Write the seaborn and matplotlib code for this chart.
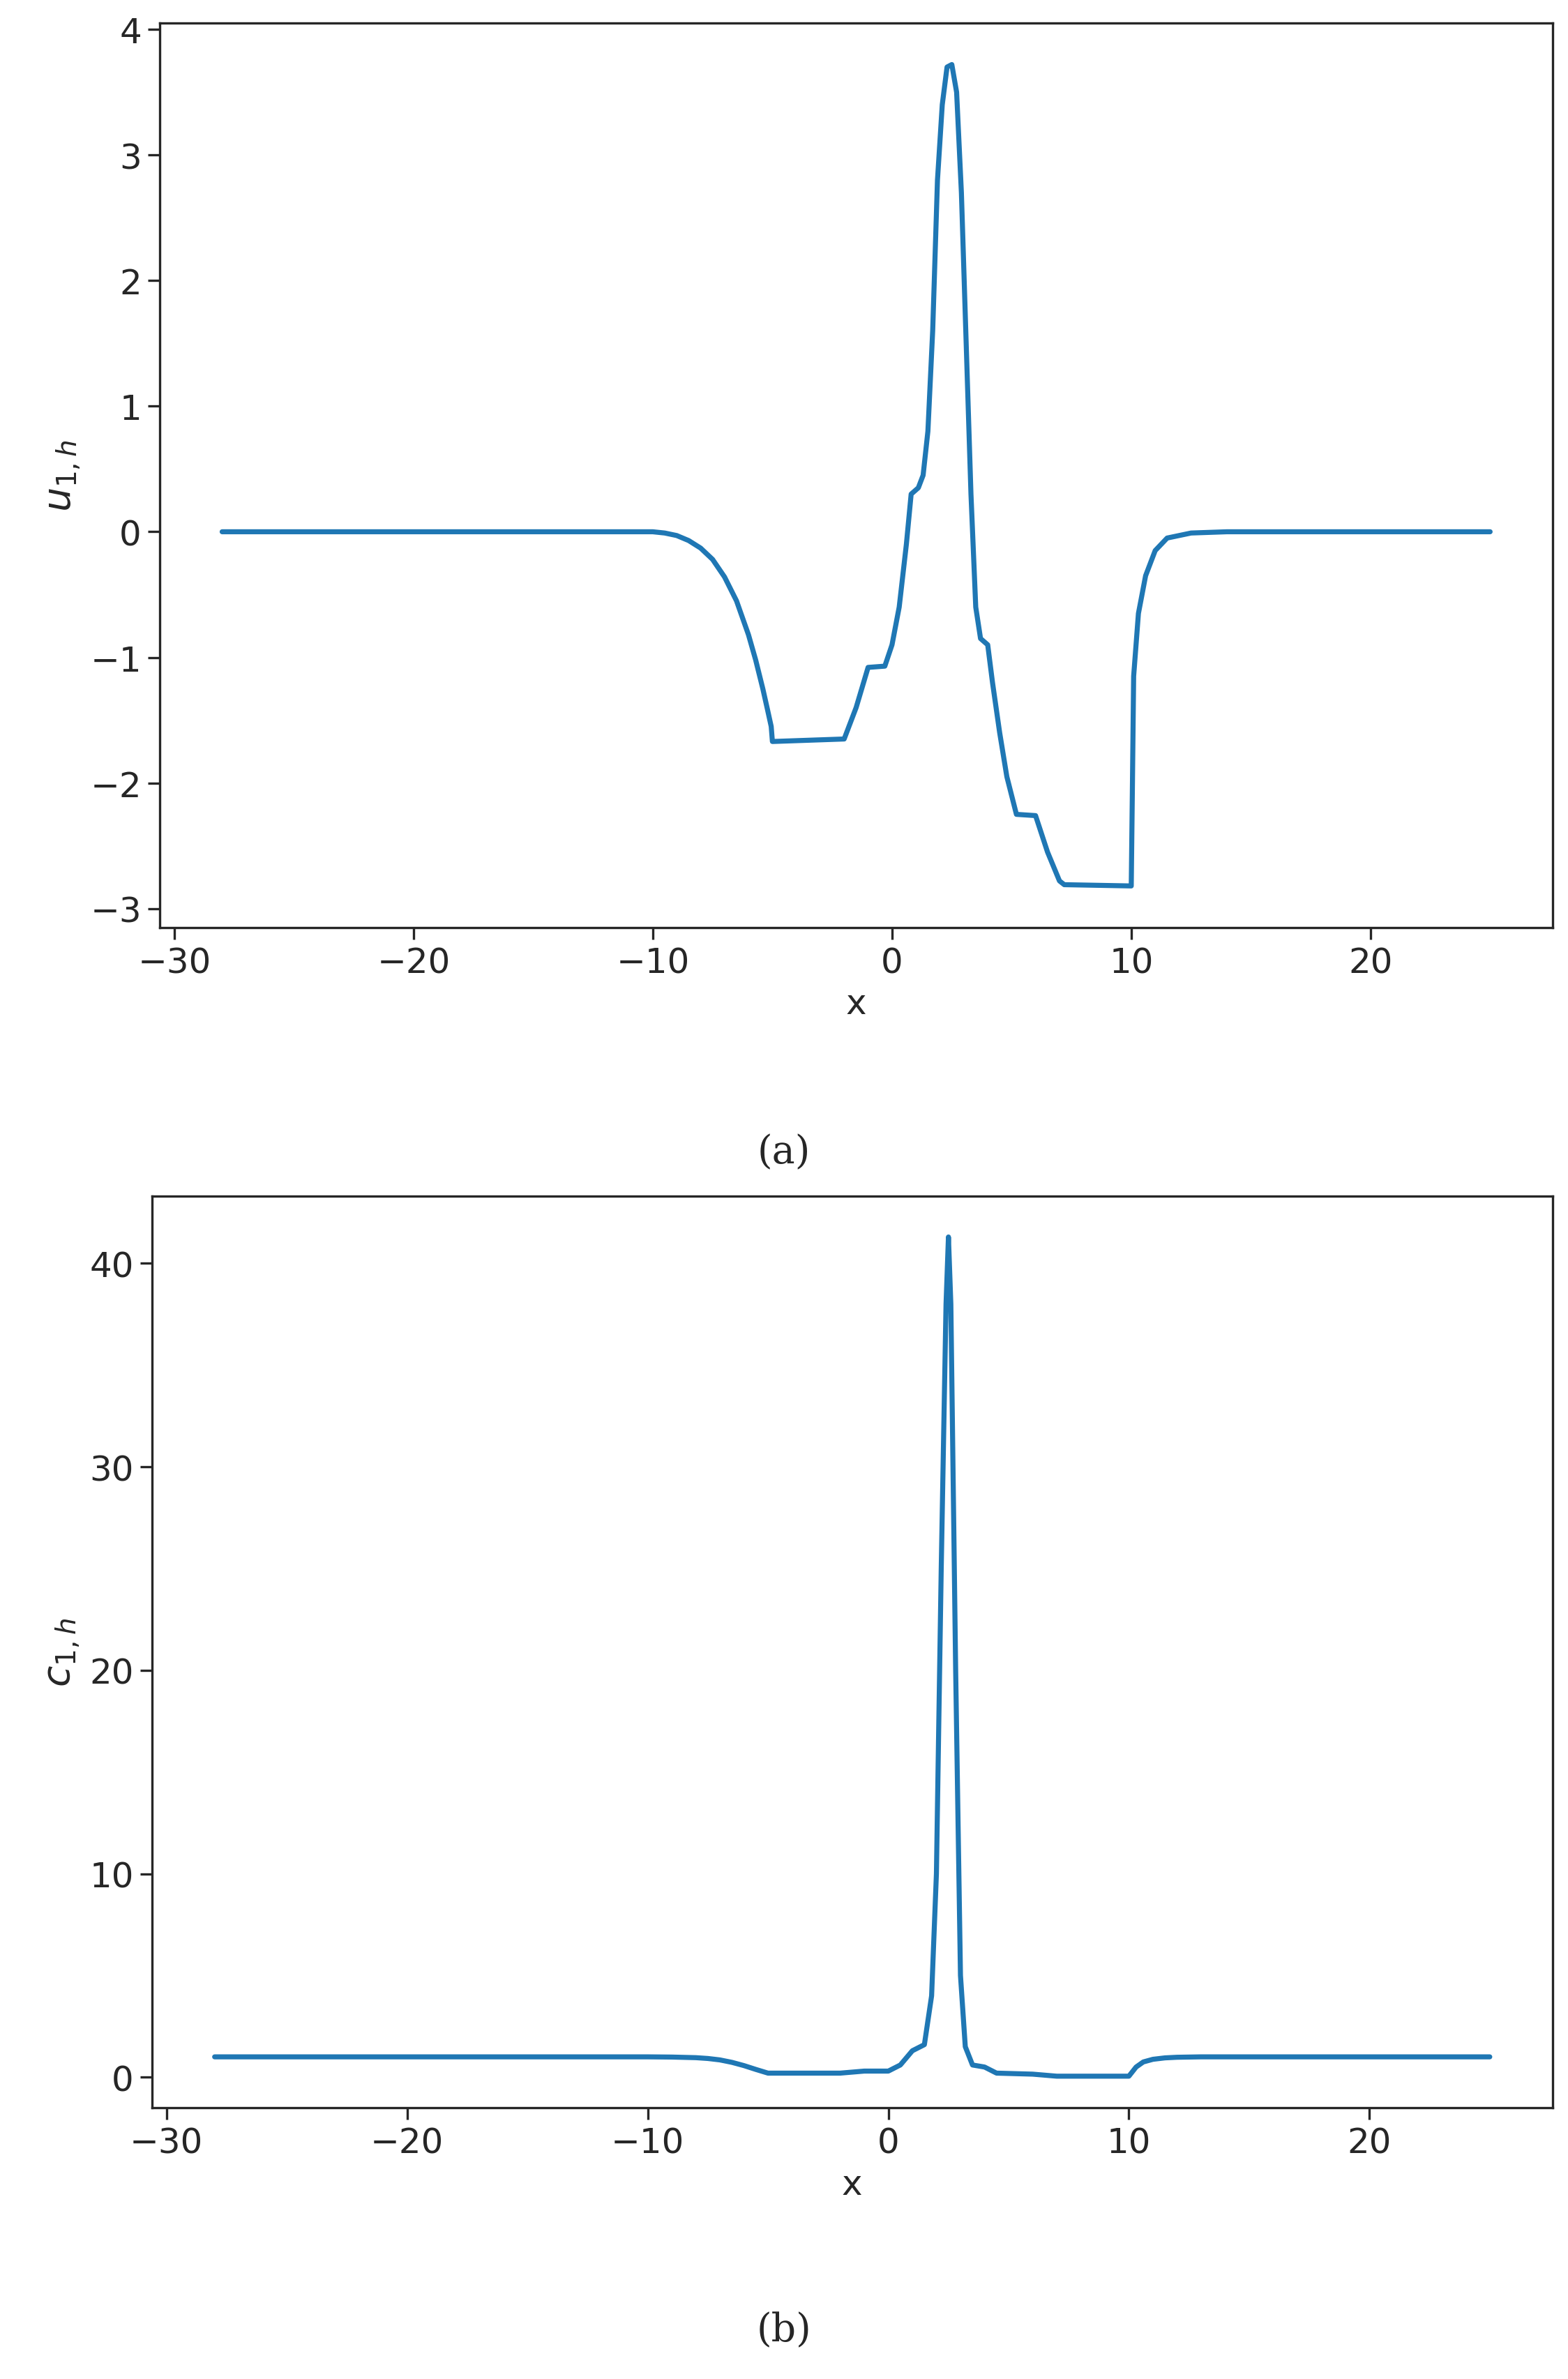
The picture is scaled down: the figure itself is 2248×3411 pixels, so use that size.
import numpy as np
import pandas as pd
import matplotlib
matplotlib.use("Agg")
import matplotlib.pyplot as plt
import seaborn as sns

sns.set_style("ticks")
plt.rcParams['font.family'] = ['DejaVu Sans']
plt.rcParams['mathtext.fontset'] = 'dejavusans'

# u_{1,h} profile
u_x = [-28, -10, -9.5, -9, -8.5, -8, -7.5, -7, -6.5, -6, -5.7, -5.4, -5.2, -5.05, -5, -2, -1.5,
       -1, -0.3, 0, 0.3, 0.6, 0.8, 1.1, 1.3, 1.5, 1.7, 1.9, 2.1, 2.3, 2.5, 2.7, 2.9, 3.1, 3.3,
       3.5, 3.7, 4, 4.2, 4.5, 4.8, 5.2, 6, 6.5, 7, 7.2, 10, 10.05, 10.1, 10.3, 10.6, 11,
       11.5, 12.5, 14, 25]
u_y = [0, 0, -0.01, -0.03, -0.07, -0.13, -0.22, -0.36, -0.55, -0.82, -1.02, -1.25, -1.42,
       -1.55, -1.67, -1.65, -1.4, -1.08, -1.07, -0.9, -0.6, -0.1, 0.3, 0.35, 0.45, 0.8, 1.6,
       2.8, 3.4, 3.7, 3.72, 3.5, 2.7, 1.5, 0.3, -0.6, -0.85, -0.9, -1.2, -1.6, -1.95, -2.25,
       -2.26, -2.55, -2.78, -2.81, -2.82, -2.0, -1.15, -0.65, -0.35, -0.15, -0.05, -0.01, 0, 0]

# c_{1,h} profile
c_x = [-28, -10, -9, -8, -7.5, -7, -6.5, -6, -5.5, -5, -2, -1, 0, 0.5, 1, 1.5, 1.8, 2, 2.2,
       2.4, 2.5, 2.6, 2.8, 3, 3.2, 3.5, 4, 4.5, 6, 7, 10, 10.3, 10.6, 11, 11.5, 12, 13, 25]
c_y = [1.0, 1.0, 0.99, 0.96, 0.92, 0.85, 0.73, 0.57, 0.38, 0.2, 0.2, 0.3, 0.3, 0.6, 1.3, 1.6,
       4, 10, 25, 38, 41.3, 38, 20, 5, 1.5, 0.6, 0.5, 0.2, 0.15, 0.05, 0.05, 0.5, 0.75, 0.88,
       0.95, 0.98, 1.0, 1.0]

fig = plt.figure(figsize=(11.24, 17.06), dpi=200)
ax1 = fig.add_axes([0.102, 0.610, 0.888, 0.380])
ax2 = fig.add_axes([0.097, 0.114, 0.893, 0.383])

df_u = pd.DataFrame({"x": u_x, "y": u_y})
df_c = pd.DataFrame({"x": c_x, "y": c_y})
sns.lineplot(data=df_u, x="x", y="y", ax=ax1, color="#1f77b4", lw=2.6, sort=False)
sns.lineplot(data=df_c, x="x", y="y", ax=ax2, color="#1f77b4", lw=2.6, sort=False)

ax1.set_ylim(-3.15, 4.05)
ax2.set_ylim(-1.5, 43.3)
ax2.set_yticks([0, 10, 20, 30, 40])
for ax, lab in [(ax1, r"$u_{1,h}$"), (ax2, r"$c_{1,h}$")]:
    ax.set_xlim(-30.6, 27.6)
    ax.set_xlabel("x", fontsize=18)
    ax.set_ylabel(lab, fontsize=20)
    ax.tick_params(labelsize=18, length=6, width=1.2)
    for s in ax.spines.values():
        s.set_visible(True)
        s.set_linewidth(1.2)

fig.text(0.5, 0.511, "(a)", ha="center", fontsize=20, family="DejaVu Serif")
fig.text(0.5, 0.016, "(b)", ha="center", fontsize=20, family="DejaVu Serif")

fig.savefig("out.png", dpi=200)
